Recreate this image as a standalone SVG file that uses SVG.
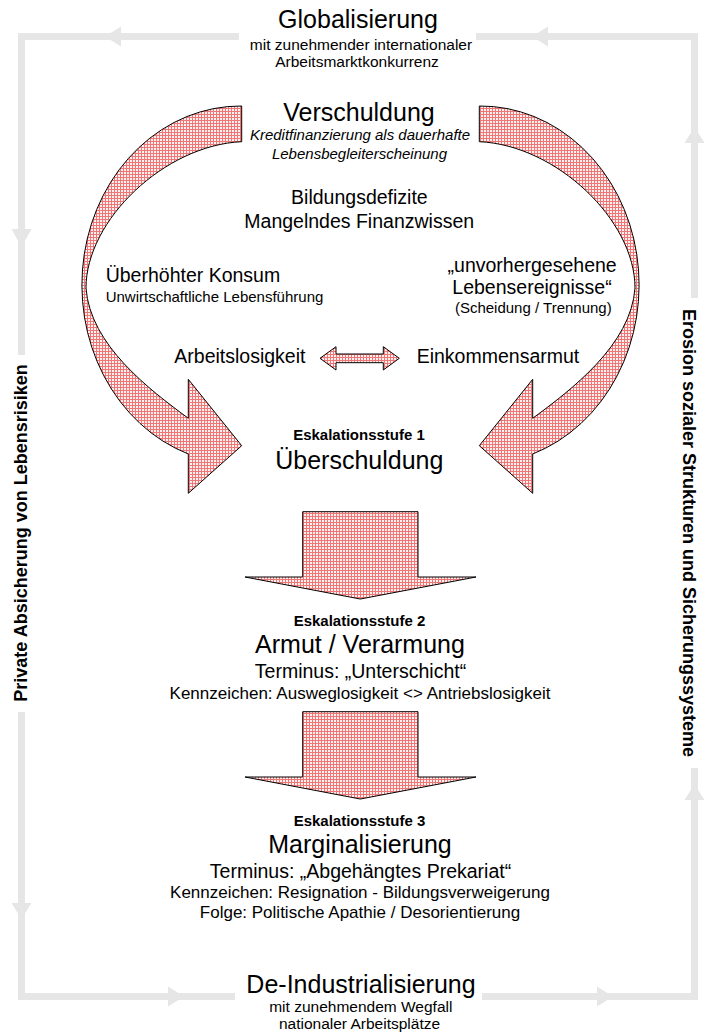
<svg xmlns="http://www.w3.org/2000/svg" xmlns:xlink="http://www.w3.org/1999/xlink" width="710" height="1033" viewBox="0 0 710 1033">
<style>
text{font-family:"Liberation Sans",Arial,sans-serif;fill:#000}
.big{font-size:25px}
.mid{font-size:19.5px}
.med{font-size:17px}
.sm{font-size:15px}
.sub{font-size:15.5px}
.it{font-size:15px;font-style:italic}
.esk{font-size:15px;font-weight:bold}
.side{font-size:18px;font-weight:bold}
.c{text-anchor:middle}
.e{text-anchor:end}
.frame{fill:none;stroke:#e6e6e6;stroke-width:7;stroke-linejoin:miter;stroke-linecap:butt}
.fhead{fill:#e6e6e6}
.red{fill:url(#hatch);stroke:#000;stroke-width:1;stroke-linejoin:miter}
</style>
<defs>
<pattern id="hatch" patternUnits="userSpaceOnUse" width="3" height="3">
<rect width="3" height="3" fill="#fdf0f0"/>
<rect width="3" height="1" fill="#f07676"/>
<rect width="1" height="3" fill="#f07676"/>
</pattern>
<path id="curved" d="M241.7 106 A158.7 179 0 0 0 188.3 454 L188.3 493.3 L241.7 445.7 L188.3 379.3 L188.3 418.3 C150 390 90 345 86 288 C86 220 165 145 241.7 141.7 Z"/>
<path id="down" d="M302.7 511.7 L418 511.7 L418 577 L476 577 L360.3 599 L245 577 L302.7 577 Z"/>
</defs>
<rect width="710" height="1033" fill="#fff"/>
<g id="connectors">
<g id="frame">
<polyline class="frame" points="239,36.5 21.5,36.5 21.5,355"/>
<polyline class="frame" points="21.5,712 21.5,996.5 235,996.5"/>
<polyline class="frame" points="482,996.5 694.5,996.5 694.5,768"/>
<polyline class="frame" points="694.5,298 694.5,36.5 476,36.5"/>
<polygon class="fhead" points="105,36.5 121,26.5 121,46.5"/>
<polygon class="fhead" points="532,36.5 548,26.5 548,46.5"/>
<polygon class="fhead" points="21.5,247 11.5,229 31.5,229"/>
<polygon class="fhead" points="21.5,919 11.5,903 31.5,903"/>
<polygon class="fhead" points="694.5,127 684.5,143 704.5,143"/>
<polygon class="fhead" points="694.5,784 684.5,800 704.5,800"/>
<polygon class="fhead" points="184,996.5 168,986.5 168,1006.5"/>
<polygon class="fhead" points="613,996.5 597,986.5 597,1006.5"/>
</g>
<use xlink:href="#curved" href="#curved" class="red"/>
<use xlink:href="#curved" href="#curved" class="red" transform="translate(721,0) scale(-1,1)"/>
<path class="red" d="M320 358.3 L336 346.7 L336 354 L383.3 354 L383.3 346.7 L399.3 358.3 L383.3 370 L383.3 362.7 L336 362.7 L336 370 Z"/>
<use xlink:href="#down" href="#down" class="red"/>
<use xlink:href="#down" href="#down" class="red" transform="translate(0,200)"/>
</g>
<g id="globalisierung">
<text class="big c" x="358" y="28">Globalisierung</text>
<text class="sub c" x="361" y="50">mit zunehmender internationaler</text>
<text class="sub c" x="357" y="67">Arbeitsmarktkonkurrenz</text>
</g>
<g id="verschuldung">
<text class="big c" x="359" y="121">Verschuldung</text>
<text class="it c" x="360" y="140">Kreditfinanzierung als dauerhafte</text>
<text class="it c" x="359.5" y="159">Lebensbegleiterscheinung</text>
</g>
<g id="bildung">
<text class="mid c" x="359.4" y="204">Bildungsdefizite</text>
<text class="mid c" x="359.2" y="228">Mangelndes Finanzwissen</text>
</g>
<g id="konsum">
<text class="mid" x="105.7" y="282">Überhöhter Konsum</text>
<text class="sm" x="105.7" y="302">Unwirtschaftliche Lebensführung</text>
</g>
<g id="ereignisse">
<text class="mid e" x="616.7" y="272">„unvorhergesehene</text>
<text class="mid e" x="611.7" y="294">Lebensereignisse“</text>
<text class="sm e" x="611.7" y="313">(Scheidung / Trennung)</text>
</g>
<g id="arbeitslosigkeit">
<text class="mid" x="174.3" y="363">Arbeitslosigkeit</text>
</g>
<g id="einkommensarmut">
<text class="mid" x="416.7" y="363">Einkommensarmut</text>
</g>
<g id="stufe1">
<text class="esk c" x="359" y="440">Eskalationsstufe 1</text>
<text class="big c" x="359.3" y="469">Überschuldung</text>
</g>
<g id="stufe2">
<text class="esk c" x="359.5" y="626">Eskalationsstufe 2</text>
<text class="big c" x="360" y="653">Armut / Verarmung</text>
<text class="mid c" x="360.5" y="678">Terminus: „Unterschicht“</text>
<text class="med c" x="360" y="699">Kennzeichen: Ausweglosigkeit &lt;&gt; Antriebslosigkeit</text>
</g>
<g id="stufe3">
<text class="esk c" x="359.5" y="826">Eskalationsstufe 3</text>
<text class="big c" x="360" y="853">Marginalisierung</text>
<text class="mid c" x="360.5" y="878">Terminus: „Abgehängtes Prekariat“</text>
<text class="med c" x="360" y="898">Kennzeichen: Resignation - Bildungsverweigerung</text>
<text class="med c" x="360" y="918">Folge: Politische Apathie / Desorientierung</text>
</g>
<g id="deindustrialisierung">
<text class="big c" x="361" y="993">De-Industrialisierung</text>
<text class="sub c" x="360.8" y="1012">mit zunehmendem Wegfall</text>
<text class="sub c" x="359.5" y="1029">nationaler Arbeitsplätze</text>
</g>
<g id="private">
<text class="side c" transform="translate(27,533) rotate(-90)">Private Absicherung von Lebensrisiken</text>
</g>
<g id="erosion">
<text class="side c" transform="translate(683,533) rotate(90)">Erosion sozialer Strukturen und Sicherungssysteme</text>
</g>
</svg>
